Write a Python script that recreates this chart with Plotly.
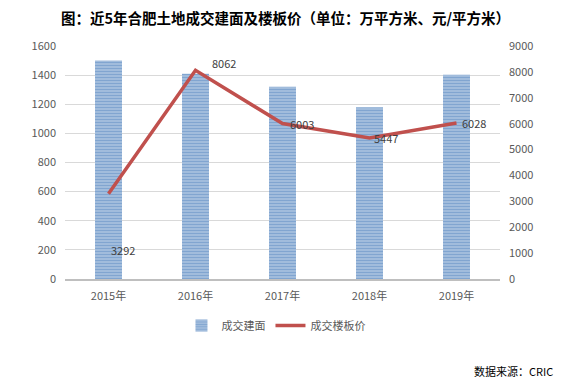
import plotly.graph_objects as go

years = ["2015年", "2016年", "2017年", "2018年", "2019年"]
area = [1500, 1410, 1320, 1180, 1403]
price = [3292, 8062, 6003, 5447, 6028]
left_ticks = [0, 200, 400, 600, 800, 1000, 1200, 1400, 1600]
right_ticks = [0, 1000, 2000, 3000, 4000, 5000, 6000, 7000, 8000, 9000]

FONT = "Noto Sans CJK SC"
GRAY = "#595959"

fig = go.Figure()
fig.add_trace(go.Bar(
    x=years, y=area, name="成交建面",
    marker=dict(color="#b9cde5", line=dict(width=0),
                pattern=dict(shape="-", fgcolor="#4a7ebb", size=3, solidity=0.62)),
    width=0.31, yaxis="y",
))
fig.add_trace(go.Scatter(
    x=years, y=price, name="成交楼板价", mode="lines",
    line=dict(color="#c0504d", width=3.5), yaxis="y2",
))

# data labels
xshifts = [0, 14, 5, 2, 3]
yshifts = [-56, 7, 0, 0, 0]
for xv, yv, xs, ys in zip(years, price, xshifts, yshifts):
    fig.add_annotation(x=xv, y=yv, xref="x", yref="y2", text=str(yv),
                       showarrow=False, xanchor="left", xshift=xs, yshift=ys,
                       font=dict(family=FONT, size=11, color="#404040"))

# page body has an 8px default margin, so the figure is sized/offset to compensate
fig.update_layout(
    width=555, height=372,
    margin=dict(l=57, r=63, t=38, b=101, autoexpand=False),
    paper_bgcolor="white", plot_bgcolor="white",
    title=dict(text="<b>图：近5年合肥土地成交建面及楼板价（单位：万平方米、元/平方米）</b>",
               x=0.5, xanchor="center", y=0.971, yanchor="middle",
               font=dict(family=FONT, size=14.5, color="#000000")),
    font=dict(family=FONT, size=11, color=GRAY),
    showlegend=True,
    legend=dict(orientation="h", x=0.485, xanchor="center", y=-0.2, yanchor="middle",
                font=dict(family=FONT, size=11, color=GRAY), itemwidth=30),
    bargap=0.69,
    xaxis=dict(showgrid=False, showline=True, linecolor="#bfbfbf", linewidth=2,
               ticks="outside", ticklen=6, tickcolor="rgba(0,0,0,0)", automargin=False,
               tickfont=dict(family=FONT, size=11, color=GRAY)),
    yaxis=dict(range=[0, 1600], tickvals=left_ticks, showgrid=True, gridcolor="#d9d9d9",
               gridwidth=1, zeroline=False, ticks="", automargin=False,
               ticklabelstandoff=8,
               tickfont=dict(family=FONT, size=11, color=GRAY)),
    yaxis2=dict(range=[0, 9000], tickvals=right_ticks, overlaying="y", side="right",
                showgrid=False, zeroline=False, automargin=False, ticklabelstandoff=8,
                tickfont=dict(family=FONT, size=11, color=GRAY)),
)

fig.add_annotation(text="数据来源：CRIC", xref="paper", yref="paper", x=1.126, y=-0.395,
                   xanchor="right", yanchor="middle", showarrow=False,
                   font=dict(family=FONT, size=11, color="#000000"))

fig.write_html("out.html")
